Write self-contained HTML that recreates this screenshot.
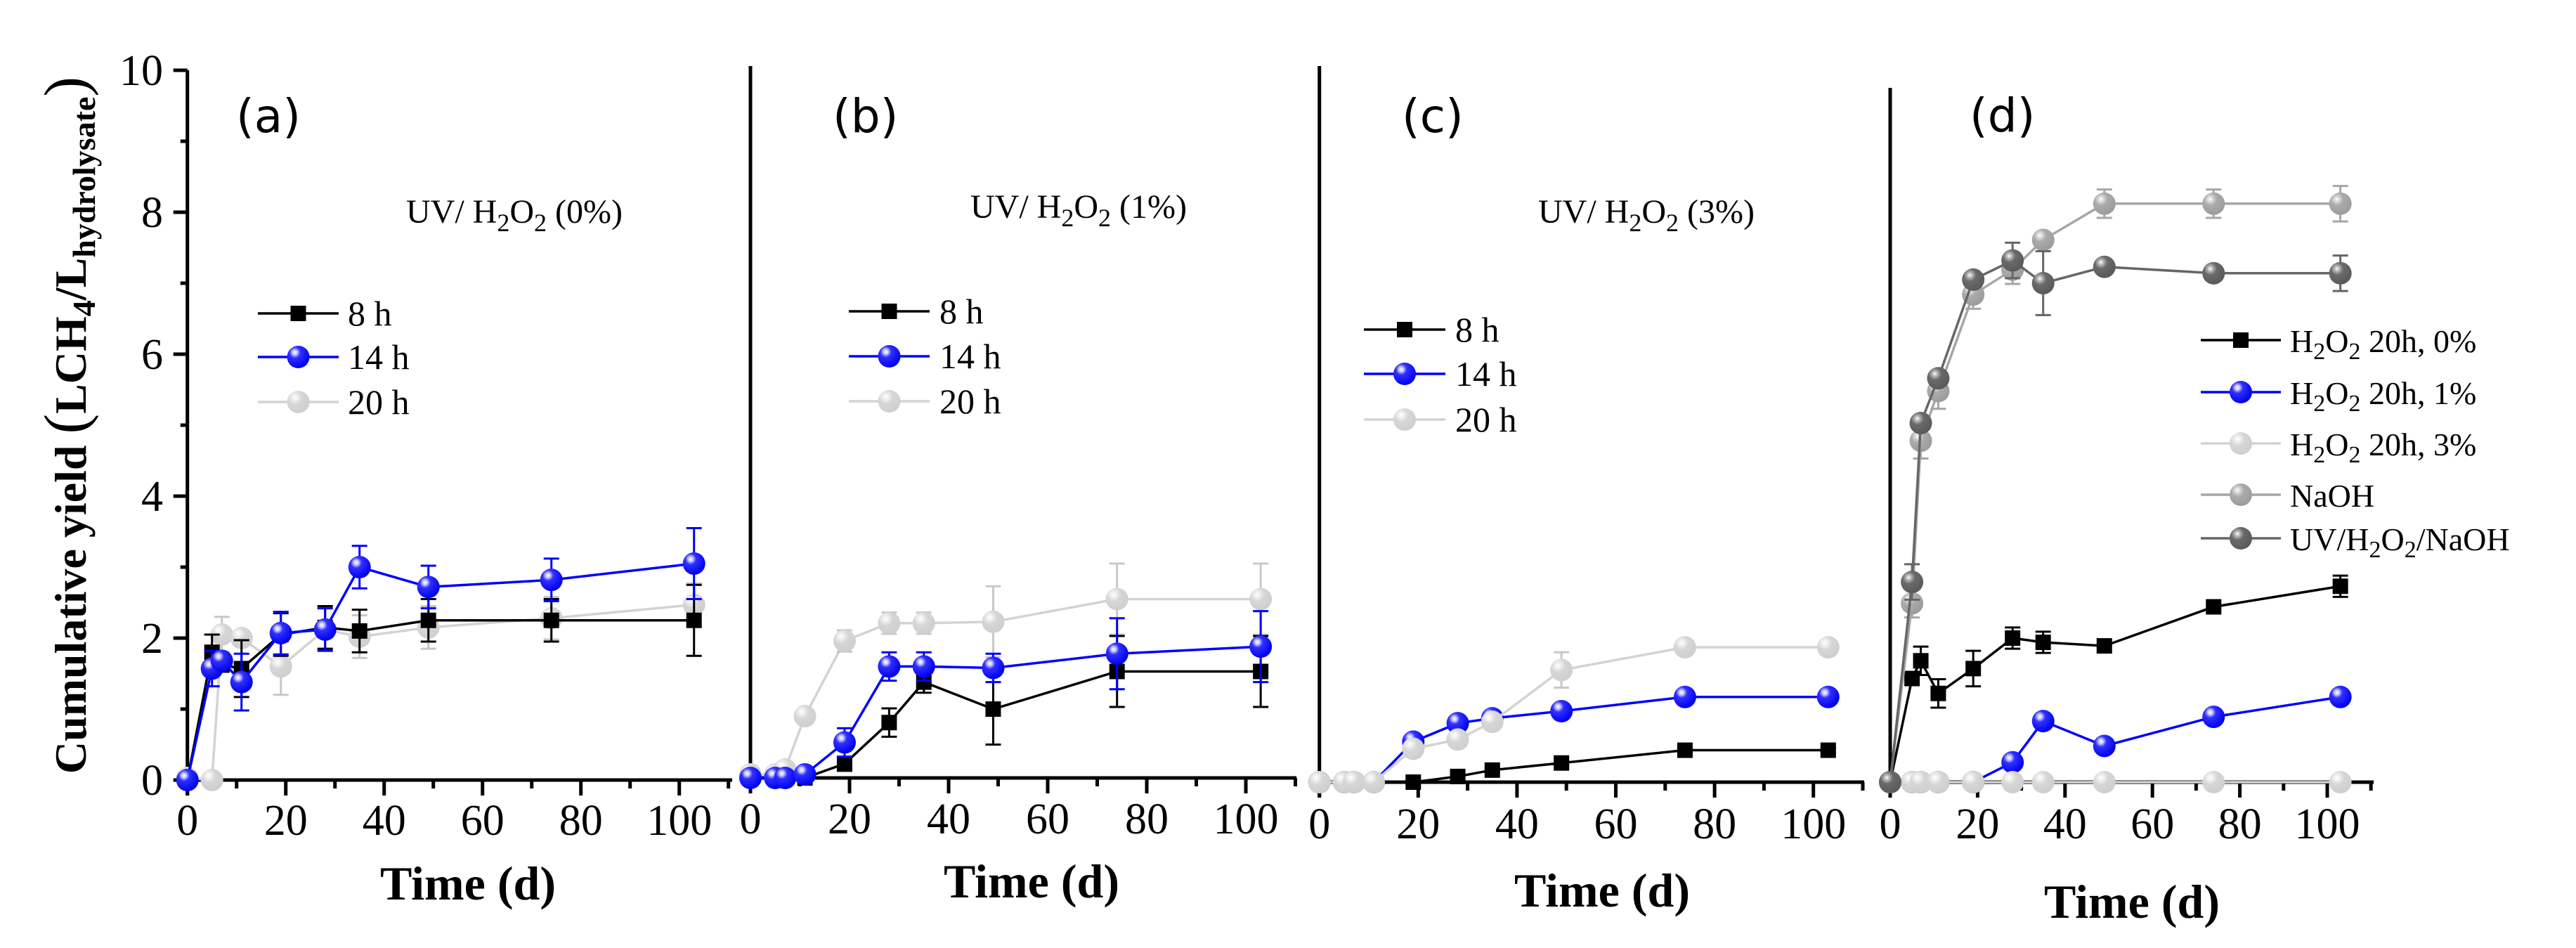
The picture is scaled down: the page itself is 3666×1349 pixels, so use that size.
<!DOCTYPE html>
<html><head><meta charset="utf-8"><style>
html,body{margin:0;padding:0;background:#fff;}
svg{display:block;}
</style></head><body>
<svg id="chart" xmlns="http://www.w3.org/2000/svg" width="3666" height="1349" viewBox="0 0 3666 1349">
<defs>
<radialGradient id="g-blue" cx="0.35" cy="0.3" r="0.7"><stop offset="0" stop-color="#ffffff"/><stop offset="0.15" stop-color="#c8c8ff"/><stop offset="0.35" stop-color="#3030ff"/><stop offset="1" stop-color="#0000ee"/></radialGradient>
<radialGradient id="g-light" cx="0.35" cy="0.3" r="0.7"><stop offset="0" stop-color="#ffffff"/><stop offset="0.2" stop-color="#eeeeee"/><stop offset="0.45" stop-color="#d6d6d6"/><stop offset="1" stop-color="#cfcfcf"/></radialGradient>
<radialGradient id="g-mid" cx="0.35" cy="0.3" r="0.7"><stop offset="0" stop-color="#ffffff"/><stop offset="0.15" stop-color="#dddddd"/><stop offset="0.4" stop-color="#ababab"/><stop offset="1" stop-color="#9c9c9c"/></radialGradient>
<radialGradient id="g-dark" cx="0.35" cy="0.3" r="0.7"><stop offset="0" stop-color="#ffffff"/><stop offset="0.15" stop-color="#bbbbbb"/><stop offset="0.4" stop-color="#6a6a6a"/><stop offset="1" stop-color="#5a5a5a"/></radialGradient>
</defs>
<g id="root"></g>
</svg>
<script>
const days = [0, 5, 7, 11, 19, 28, 35, 49, 74, 103];
const xTicks = [0, 20, 40, 60, 80, 100];
const yTicks = [0, 2, 4, 6, 8, 10];

const a8 = [0, 1.8, 1.62, 1.57, 2.05, 2.15, 2.1, 2.25, 2.25, 2.25];
const a8Err = [0, 0.25, 0, 0.4, 0.3, 0.3, 0.3, 0.3, 0.3, 0.5];
const a14 = [0, 1.57, 1.68, 1.38, 2.07, 2.12, 3.0, 2.72, 2.82, 3.05];
const a14Err = [0, 0.25, 0, 0.4, 0.3, 0.3, 0.3, 0.3, 0.3, 0.5];
const a20 = [0.03, 0.0, 2.05, 2.0, 1.6, 2.12, 2.02, 2.15, 2.28, 2.47];
const a20Err = [0, 0, 0.25, 0, 0.4, 0.3, 0.3, 0.3, 0.3, 0.3];

const b8 = [0, 0, 0, 0, 0.2, 0.78, 1.35, 0.97, 1.5, 1.5];
const b8Err = [0, 0, 0, 0, 0.1, 0.2, 0.15, 0.5, 0.5, 0.5];
const b14 = [0, 0, 0, 0.05, 0.5, 1.57, 1.57, 1.55, 1.75, 1.85];
const b14Err = [0, 0, 0, 0, 0.2, 0.2, 0.2, 0.2, 0.5, 0.5];
const b20 = [0.05, 0.05, 0.12, 0.87, 1.93, 2.18, 2.18, 2.2, 2.52, 2.52];
const b20Err = [0, 0, 0, 0, 0.15, 0.15, 0.15, 0.5, 0.5, 0.5];

const c8 = [0, 0, 0, 0, 0, 0.08, 0.17, 0.27, 0.45, 0.45];
const c8Err = [0, 0, 0, 0, 0, 0.03, 0.03, 0.03, 0.03, 0.03];
const c14 = [0, 0, 0, 0, 0.57, 0.83, 0.9, 1.0, 1.2, 1.2];
const c14Err = [0, 0, 0, 0, 0.05, 0.05, 0.05, 0.05, 0.05, 0.05];
const c20 = [0, 0, 0, 0, 0.47, 0.6, 0.85, 1.58, 1.9, 1.9];
const c20Err = [0, 0, 0, 0, 0.05, 0.05, 0.05, 0.25, 0.05, 0.05];

const d0 = [0, 1.46, 1.71, 1.25, 1.6, 2.03, 1.97, 1.92, 2.47, 2.76];
const d0Err = [0, 0, 0.2, 0.2, 0.25, 0.15, 0.15, 0, 0, 0.15];
const d1 = [0, 0, 0, 0, 0, 0.28, 0.86, 0.51, 0.92, 1.2];
const d1Err = [0, 0, 0, 0, 0, 0.05, 0.05, 0.05, 0.05, 0.05];
const d3 = [0, 0, 0, 0, 0, 0, 0, 0, 0, 0];
const d3Err = [0, 0, 0, 0, 0, 0, 0, 0, 0, 0];
const dNaOH = [0, 2.52, 4.81, 5.51, 6.87, 7.22, 7.64, 8.15, 8.15, 8.15];
const dNaOHErr = [0, 0.2, 0.25, 0.25, 0.2, 0.2, 0, 0.2, 0.2, 0.25];
const dUV = [0, 2.82, 5.06, 5.69, 7.08, 7.35, 7.03, 7.26, 7.17, 7.17];
const dUVErr = [0, 0.25, 0.1, 0.1, 0.1, 0.25, 0.45, 0, 0, 0.25];

const NS = "http://www.w3.org/2000/svg";
const root = document.getElementById('root');
function mk(tag, attrs, parent) {
  const e = document.createElementNS(NS, tag);
  for (const k in attrs) e.setAttribute(k, attrs[k]);
  (parent || root).appendChild(e);
  return e;
}

const panels = [
  {id:'a', x0:266.7, px:7.0, y0:1110, top:100, axStart:248, axEnd:1040, label:'(a)', lx:336, ly:188, title:'0%', tx:578, ty:317, leg:{x1:367,x2:482,tx:495,ys:[446,508,572]}, timeX:666, timeY:1280, tickY:1188},
  {id:'b', x0:1068, px:7.05, y0:1107, top:94, axStart:1068, axEnd:1843, label:'(b)', lx:1185, ly:188, title:'1%', tx:1381, ty:310, leg:{x1:1208,x2:1323,tx:1337,ys:[443,507,571]}, timeX:1468, timeY:1277, tickY:1186},
  {id:'c', x0:1877.7, px:7.03, y0:1113, top:94, axStart:1877.7, axEnd:2651, label:'(c)', lx:1995, ly:188, title:'3%', tx:2189, ty:317, leg:{x1:1941,x2:2057,tx:2071,ys:[469,532,597]}, timeX:2280, timeY:1290, tickY:1193},
  {id:'d', x0:2690, px:6.22, y0:1113, top:125, axStart:2690, axEnd:3376, label:'(d)', lx:2803, ly:187, title:null, leg:{x1:3132,x2:3246,tx:3259,ys:[484,558,631,704,766]}, timeX:3034, timeY:1306, tickY:1193}
];
const PU = 101;

function xs(p, v) { return p.x0 + v * p.px; }
function ys(p, v) { return p.y0 - v * PU; }

const styles = {
  k: {color:'#000', fill:'#000', shape:'sq'},
  b: {color:'#0000ff', fill:'url(#g-blue)', shape:'c'},
  l: {color:'#d3d3d3', fill:'url(#g-light)', shape:'c'},
  m: {color:'#a6a6a6', fill:'url(#g-mid)', shape:'c'},
  d: {color:'#666666', fill:'url(#g-dark)', shape:'c'}
};

function marker(st, cx, cy, g, name) {
  let e;
  if (st.shape === 'sq') e = mk('rect', {x:cx-11, y:cy-11, width:22, height:22, fill:'#000'}, g);
  else e = mk('ellipse', {cx:cx, cy:cy, rx:16, ry:16, fill:st.fill}, g);
  
  
  return e;
}

function series(p, vals, errs, st, name) {
  const g = mk('g', {});
  
  
  const pts = days.map((d, i) => xs(p, d).toFixed(1) + ',' + ys(p, vals[i]).toFixed(1)).join(' ');
  const line = mk('polyline', {points:pts, fill:'none', stroke:st.color, 'stroke-width':3.5}, g);
  
  
  days.forEach((d, i) => {
    if (errs[i] > 0) {
      const cx = xs(p, d), y1 = ys(p, vals[i] + errs[i]), y2 = ys(p, vals[i] - errs[i]);
      const eb = mk('path', {d:`M${cx},${y1}V${y2}M${cx-11},${y1}H${cx+11}M${cx-11},${y2}H${cx+11}`, stroke:st.color === '#d3d3d3' ? '#c8c8c8' : st.color, 'stroke-width':3, fill:'none'}, g);
      
      
    }
  });
  days.forEach((d, i) => marker(st, xs(p, d), ys(p, vals[i]), g, name + '-point'));
}

function axes(p) {
  const g = mk('g', {});
  
  
  const yl = mk('line', {x1:p.x0, y1:p.top, x2:p.x0, y2:p.y0 + 22, stroke:'#000', 'stroke-width':5}, g);
  
  
  const xl = mk('line', {x1:p.axStart, y1:p.y0, x2:p.axEnd + 2, y2:p.y0, stroke:'#000', 'stroke-width':5}, g);
  
  
  for (let v = 0; v <= 110; v += 10) {
    const major = v % 20 === 0;
    const t = mk('line', {x1:xs(p, v), y1:p.y0, x2:xs(p, v), y2:p.y0 + (major ? 22 : 12), stroke:'#000', 'stroke-width':5}, g);
    
    
  }
  xTicks.forEach(v => {
    const t = mk('text', {x:xs(p, v), y:p.tickY, 'text-anchor':'middle', 'font-family':'Liberation Serif, serif', 'font-size':62}, g);
    t.textContent = v;
    
    
  });
  const tt = mk('text', {x:p.timeX, y:p.timeY, 'text-anchor':'middle', 'font-family':'Liberation Serif, serif', 'font-weight':'bold', 'font-size':68}, g);
  tt.textContent = 'Time (d)';
  
  
  const pl = mk('text', {x:p.lx, y:p.ly, 'font-family':'DejaVu Sans, sans-serif', 'font-size':66}, g);
  pl.textContent = p.label;
  
  
  if (p.title) {
    const ti = mk('text', {x:p.tx, y:p.ty, 'font-family':'Liberation Serif, serif', 'font-size':48}, g);
    ti.innerHTML = 'UV/ H<tspan dy="12" font-size="36">2</tspan><tspan dy="-12">O</tspan><tspan dy="12" font-size="36">2</tspan><tspan dy="-12"> (' + p.title + ')</tspan>';
    
    
  }
}

(function () {
  const p = panels[0];
  for (let v = 0; v <= 10; v += 1) {
    const major = v % 2 === 0;
    const t = mk('line', {x1:p.x0 - (major ? 20 : 10), y1:ys(p, v), x2:p.x0, y2:ys(p, v), stroke:'#000', 'stroke-width':5});
    
    
  }
  yTicks.forEach(v => {
    const t = mk('text', {x:232, y:ys(p, v) + 21, 'text-anchor':'end', 'font-family':'Liberation Serif, serif', 'font-size':62});
    t.textContent = v;
    
    
  });
  const yt = mk('text', {x:0, y:0, transform:'translate(122,605) rotate(-90)', 'text-anchor':'middle', 'font-family':'Liberation Serif, serif', 'font-weight':'bold', 'font-size':64});
  yt.innerHTML = 'Cumulative yield <tspan font-size="86" font-weight="normal">(</tspan>LCH<tspan dy="13" font-size="46">4</tspan><tspan dy="-13">/L</tspan><tspan dy="13" font-size="46">hydrolysate</tspan><tspan dy="-13" font-size="86" font-weight="normal">)</tspan>';
  
  
})();

panels.forEach(axes);

series(panels[0], a20, a20Err, styles.l, 'a-20h');
series(panels[0], a8, a8Err, styles.k, 'a-8h');
series(panels[0], a14, a14Err, styles.b, 'a-14h');
series(panels[1], b20, b20Err, styles.l, 'b-20h');
series(panels[1], b8, b8Err, styles.k, 'b-8h');
series(panels[1], b14, b14Err, styles.b, 'b-14h');
series(panels[2], c8, c8Err, styles.k, 'c-8h');
series(panels[2], c14, c14Err, styles.b, 'c-14h');
series(panels[2], c20, c20Err, styles.l, 'c-20h');
series(panels[3], d0, d0Err, styles.k, 'd-h2o2-0');
series(panels[3], d1, d1Err, styles.b, 'd-h2o2-1');
series(panels[3], d3, d3Err, styles.l, 'd-h2o2-3');
series(panels[3], dNaOH, dNaOHErr, styles.m, 'd-naoh');
series(panels[3], dUV, dUVErr, styles.d, 'd-uv-h2o2-naoh');

function legend(p, entries) {
  const g = mk('g', {});
  
  
  entries.forEach((en, i) => {
    const y = p.leg.ys[i];
    const eg = mk('g', {}, g);
    
    
    mk('line', {x1:p.leg.x1, y1:y, x2:p.leg.x2, y2:y, stroke:en[0].color, 'stroke-width':3.5}, eg);
    marker(en[0], (p.leg.x1 + p.leg.x2) / 2, y, eg, 'legend-marker');
    const t = mk('text', {x:p.leg.tx, y:y + 17, 'font-family':'Liberation Serif, serif', 'font-size': p.id === 'd' ? 46 : 50}, eg);
    t.innerHTML = en[1];
  });
}
legend(panels[0], [[styles.k, '8 h'], [styles.b, '14 h'], [styles.l, '20 h']]);
legend(panels[1], [[styles.k, '8 h'], [styles.b, '14 h'], [styles.l, '20 h']]);
legend(panels[2], [[styles.k, '8 h'], [styles.b, '14 h'], [styles.l, '20 h']]);
const sub = s => '<tspan dy="10" font-size="34">' + s + '</tspan><tspan dy="-10">';
legend(panels[3], [
  [styles.k, 'H' + sub('2') + 'O</tspan>' + sub('2') + ' 20h, 0%</tspan>'],
  [styles.b, 'H' + sub('2') + 'O</tspan>' + sub('2') + ' 20h, 1%</tspan>'],
  [styles.l, 'H' + sub('2') + 'O</tspan>' + sub('2') + ' 20h, 3%</tspan>'],
  [styles.m, 'NaOH'],
  [styles.d, 'UV/H' + sub('2') + 'O</tspan>' + sub('2') + '/NaOH</tspan>']
]);
</script>
</body></html>
